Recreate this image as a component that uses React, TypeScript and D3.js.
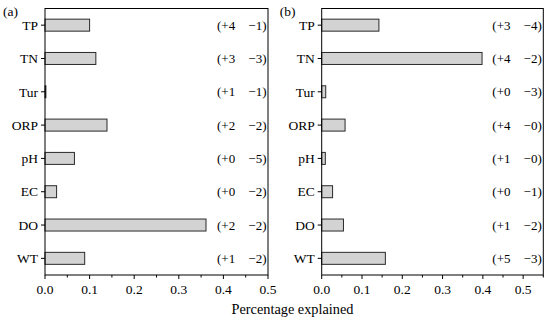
import * as d3 from 'd3'

const categories = ['TP', 'TN', 'Tur', 'ORP', 'pH', 'EC', 'DO', 'WT']

const valuesA = [0.1, 0.114, 0.002, 0.139, 0.066, 0.026, 0.361, 0.089]
const plusA = ['+4', '+3', '+1', '+2', '+0', '+0', '+2', '+1']
const minusA = ['−1', '−3', '−1', '−2', '−5', '−2', '−2', '−2']

const valuesB = [0.142, 0.398, 0.01, 0.058, 0.009, 0.027, 0.054, 0.158]
const plusB = ['+3', '+4', '+0', '+4', '+1', '+0', '+1', '+5']
const minusB = ['−4', '−2', '−3', '−0', '−0', '−1', '−2', '−3']

const majorTicks = [0, 0.1, 0.2, 0.3, 0.4, 0.5]
const minorTicksA = [0.05, 0.15, 0.25, 0.35, 0.45]
const minorTicksB = [0.05, 0.15, 0.25, 0.35, 0.45, 0.55]

const font = 'Liberation Serif'
const top = 8.5
const bottom = 275

type PanelProps = {
  tag: string
  left: number
  right: number
  xMax: number
  values: number[]
  plus: string[]
  minus: string[]
  minors: number[]
}

function Panel({ tag, left, right, xMax, values, plus, minus, minors }: PanelProps) {
  const x = d3.scaleLinear().domain([0, xMax]).range([left, right])
  const y = d3.scaleBand<string>().domain(categories).range([top, bottom]).paddingInner(0.64).paddingOuter(0.32)
  const bw = y.bandwidth()

  return (
    <g>
      <text x={left - 42} y={16} fontSize={13.5}>{tag}</text>
      {categories.map((c, i) => (
        <g key={c}>
          <rect
            x={x(0)}
            y={y(c)}
            width={Math.max(0, x(values[i]) - x(0))}
            height={bw}
            fill="#d3d3d3"
            stroke="#2a2a2a"
            strokeWidth={1}
          />
          <line x1={left - 4} x2={left} y1={y(c)! + bw / 2} y2={y(c)! + bw / 2} stroke="#000" />
          <text x={left - 7} y={y(c)! + bw / 2} dy="0.35em" textAnchor="end" fontSize={13.5}>
            {c}
          </text>
          <text x={right - 51} y={y(c)! + bw / 2} dy="0.35em" fontSize={13}>
            ({plus[i]}
          </text>
          <text x={right - 1.5} y={y(c)! + bw / 2} dy="0.35em" textAnchor="end" fontSize={13}>
            {minus[i]})
          </text>
        </g>
      ))}
      <rect x={left} y={top} width={right - left} height={bottom - top} fill="none" stroke="#000" strokeWidth={1} />
      {majorTicks.map((t) => (
        <g key={t}>
          <line x1={x(t)} x2={x(t)} y1={bottom} y2={bottom + 4} stroke="#000" />
          <text x={x(t)} y={bottom + 18.5} textAnchor="middle" fontSize={13.5}>
            {t.toFixed(1)}
          </text>
        </g>
      ))}
      {minors.map((t) => (
        <line key={t} x1={x(t)} x2={x(t)} y1={bottom} y2={bottom + 2.5} stroke="#000" />
      ))}
    </g>
  )
}

export default function App() {
  return (
    <svg
      width={550}
      height={323}
      style={{ position: 'absolute', left: 0, top: 0, background: '#fff', fontFamily: font }}
      fill="#000"
    >
      <Panel tag="(a)" left={45} right={268} xMax={0.5} values={valuesA} plus={plusA} minus={minusA} minors={minorTicksA} />
      <Panel tag="(b)" left={321.7} right={543.3} xMax={0.55} values={valuesB} plus={plusB} minus={minusB} minors={minorTicksB} />
      <text x={292.5} y={313.5} textAnchor="middle" fontSize={14.3}>
        Percentage explained
      </text>
    </svg>
  )
}
